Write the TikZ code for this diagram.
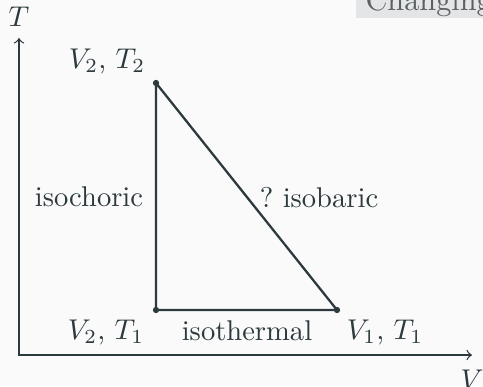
\documentclass[tikz,border=0pt]{standalone}
\usepackage{tikz}
\definecolor{ink}{RGB}{44,57,61}
\definecolor{bg}{RGB}{250,250,250}
\definecolor{boxgray}{RGB}{228,229,231}
\definecolor{captext}{RGB}{90,96,100}
\tikzset{
  lbl/.style={text=ink, inner sep=0pt},
  pt/.style={circle, fill=ink, inner sep=0pt, minimum size=2.2pt},
  edge/.style={draw=ink, line width=0.8pt},
  axis/.style={draw=ink, line width=0.45pt, <->}
}
\begin{document}
\begin{tikzpicture}[x=0.35pt, y=-0.35pt]
\fill[bg] (0,0) rectangle (483,386);
\useasboundingbox (0,0) rectangle (483,386);
\fill[boxgray] (356,-20) rectangle (490,18);
\node[anchor=base west, text=captext, inner sep=0pt, font=\fontsize{10.6}{12}\selectfont] (cap) at (365,10) {Changing};
% axes
\coordinate (ytop) at (19,38);
\coordinate (orig) at (19,355);
\coordinate (xend) at (472,355);
\draw[axis] (ytop) -- (orig) -- (xend);
\node[lbl] (tl) at (19,17) {$T$};
\node[lbl] (vl) at (472,380) {$V$};
% points
\node[pt] (p1) at (156,83) {};
\node[pt] (p2) at (156,310) {};
\node[pt] (p3) at (337,310) {};
\draw[edge] (p1.center) -- (p2.center) -- (p3.center) -- (p1.center);
% labels
\node[lbl] (l1) at (107,61) {$V_2$, $T_2$};
\node[lbl] (l2) at (106,332) {$V_2$, $T_1$};
\node[lbl] (l3) at (385,332) {$V_1$, $T_1$};
\node[lbl] (iso) at (247,331) {isothermal};
\node[lbl] (isoc) at (89,197) {isochoric};
\node[lbl] (isob) at (319,198) {?\ isobaric};
\end{tikzpicture}
\end{document}
